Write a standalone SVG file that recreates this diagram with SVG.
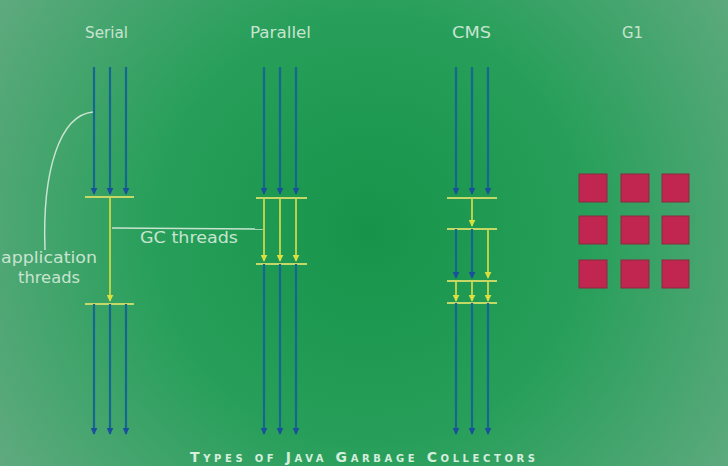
<svg xmlns="http://www.w3.org/2000/svg" width="728" height="466" viewBox="0 0 728 466">
<defs>
<radialGradient id="bg" cx="370" cy="230" r="480" gradientUnits="userSpaceOnUse">
<stop offset="0" stop-color="#17944a"/>
<stop offset="0.45" stop-color="#279f5a"/>
<stop offset="1" stop-color="#6aac86"/>
</radialGradient>
<marker id="ab" viewBox="0 0 10 10" refX="9" refY="5" markerWidth="7" markerHeight="7" markerUnits="userSpaceOnUse" orient="auto">
<path d="M0,0 L10,5 L0,10 z" fill="#1a4f9c"/>
</marker>
<marker id="ay" viewBox="0 0 10 10" refX="9" refY="5" markerWidth="7" markerHeight="7" markerUnits="userSpaceOnUse" orient="auto">
<path d="M0,0 L10,5 L0,10 z" fill="#d8e040"/>
</marker>
</defs>
<style>
.b{stroke:#15678f;stroke-width:2.2;fill:none;marker-end:url(#ab)}
.y{stroke:#c9d94a;stroke-width:1.8;fill:none;marker-end:url(#ay)}
.bar{stroke:#c5d867;stroke-width:2;fill:none}
.t{font-family:"DejaVu Sans",sans-serif;font-size:15px;fill:#c8e4d0}
.sq{fill:#c0264f;stroke:#8a2a40;stroke-width:1}
.lbl{stroke:#c8e4d0;stroke-width:1.5;fill:none}
</style>
<rect width="728" height="466" fill="url(#bg)"/>

<g id="serial">
<text class="t" x="85" y="38" textLength="43" lengthAdjust="spacingAndGlyphs">Serial</text>
</g>
<g id="parallel">
<text class="t" x="250" y="38" textLength="61" lengthAdjust="spacingAndGlyphs">Parallel</text>
</g>
<g id="cms">
<text class="t" x="452" y="38" textLength="39" lengthAdjust="spacingAndGlyphs">CMS</text>
</g>
<g id="g1">
<text class="t" x="622" y="38" textLength="21" lengthAdjust="spacingAndGlyphs">G1</text>
<rect class="sq" x="579" y="174" width="28" height="28"/>
<rect class="sq" x="621" y="174" width="28" height="28"/>
<rect class="sq" x="662" y="174" width="27" height="28"/>
<rect class="sq" x="579" y="216" width="28" height="28"/>
<rect class="sq" x="621" y="216" width="28" height="28"/>
<rect class="sq" x="662" y="216" width="27" height="28"/>
<rect class="sq" x="579" y="260" width="28" height="28"/>
<rect class="sq" x="621" y="260" width="28" height="28"/>
<rect class="sq" x="662" y="260" width="27" height="28"/>
</g>

<g id="labels">
<path class="lbl" d="M93,112 C60,115 42,170 45,250"/>
<text class="t" x="1" y="263" textLength="96" lengthAdjust="spacingAndGlyphs">application</text>
<text class="t" x="18" y="283" textLength="62" lengthAdjust="spacingAndGlyphs">threads</text>
<path class="lbl" d="M112,228 L263,229"/>
<text class="t" x="140" y="243" textLength="98" lengthAdjust="spacingAndGlyphs">GC threads</text>
</g>

<g id="connectors">
<!-- Serial -->
<line class="b" x1="94" y1="67" x2="94" y2="194"/>
<line class="b" x1="110" y1="67" x2="110" y2="194"/>
<line class="b" x1="126" y1="67" x2="126" y2="194"/>
<line class="bar" x1="85" y1="197" x2="134" y2="197"/>
<line class="y" x1="110" y1="197" x2="110" y2="301"/>
<line class="bar" x1="85" y1="304" x2="134" y2="304"/>
<line class="b" x1="94" y1="304" x2="94" y2="434"/>
<line class="b" x1="110" y1="304" x2="110" y2="434"/>
<line class="b" x1="126" y1="304" x2="126" y2="434"/>
<!-- Parallel -->
<line class="b" x1="264" y1="67" x2="264" y2="194"/>
<line class="b" x1="280" y1="67" x2="280" y2="194"/>
<line class="b" x1="296" y1="67" x2="296" y2="194"/>
<line class="bar" x1="256" y1="198" x2="307" y2="198"/>
<line class="y" x1="264" y1="198" x2="264" y2="261"/>
<line class="y" x1="280" y1="198" x2="280" y2="261"/>
<line class="y" x1="296" y1="198" x2="296" y2="261"/>
<line class="bar" x1="256" y1="264" x2="307" y2="264"/>
<line class="b" x1="264" y1="264" x2="264" y2="434"/>
<line class="b" x1="280" y1="264" x2="280" y2="434"/>
<line class="b" x1="296" y1="264" x2="296" y2="434"/>
<!-- CMS -->
<line class="b" x1="456" y1="67" x2="456" y2="194"/>
<line class="b" x1="472" y1="67" x2="472" y2="194"/>
<line class="b" x1="488" y1="67" x2="488" y2="194"/>
<line class="bar" x1="447" y1="198" x2="497" y2="198"/>
<line class="y" x1="472" y1="198" x2="472" y2="226"/>
<line class="bar" x1="447" y1="229" x2="497" y2="229"/>
<line class="b" x1="456" y1="229" x2="456" y2="278"/>
<line class="b" x1="472" y1="229" x2="472" y2="278"/>
<line class="y" x1="488" y1="229" x2="488" y2="278"/>
<line class="bar" x1="447" y1="281" x2="497" y2="281"/>
<line class="y" x1="456" y1="281" x2="456" y2="301"/>
<line class="y" x1="472" y1="281" x2="472" y2="301"/>
<line class="y" x1="488" y1="281" x2="488" y2="301"/>
<line class="bar" x1="447" y1="303" x2="497" y2="303"/>
<line class="b" x1="456" y1="303" x2="456" y2="434"/>
<line class="b" x1="472" y1="303" x2="472" y2="434"/>
<line class="b" x1="488" y1="303" x2="488" y2="434"/>
</g>

<g id="title">
<text x="190" y="462" textLength="345" lengthAdjust="spacing" font-family="'DejaVu Sans',sans-serif" font-weight="bold" font-size="14" fill="#d6eedd" style="font-variant:small-caps">Types of Java Garbage Collectors</text>
</g>
</svg>
